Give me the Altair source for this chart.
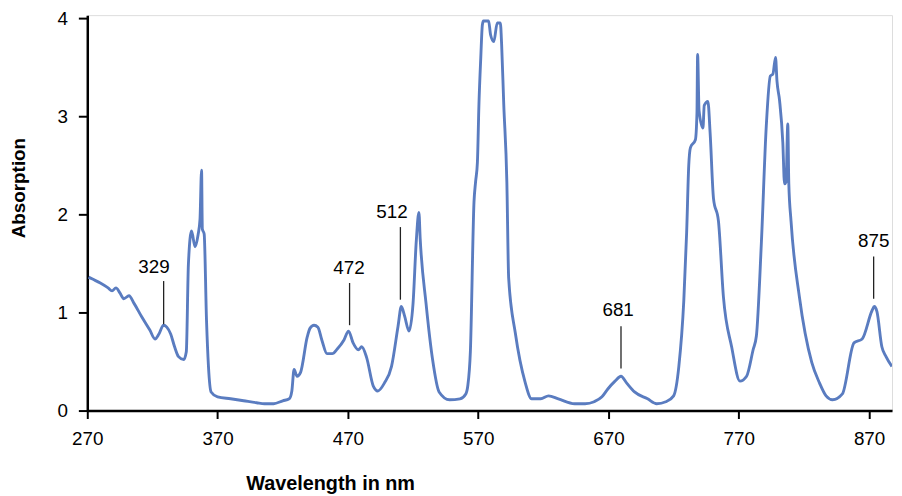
import altair as alt
import pandas as pd

# Spectrum (wavelength in nm, absorption)
wavelength = [271, 274, 280, 286, 289, 292, 295, 298, 302, 306, 312, 318, 322, 325, 328.5, 331, 334, 337, 340, 344,
              346, 347.6, 350, 352.7, 355, 356.5, 357.7, 358.3, 359.7, 361.5, 363, 365, 370, 380, 390, 400, 406, 413,
              420, 425, 427, 428.7, 431, 433.7, 438.8, 441, 444, 447, 450, 454, 458, 462, 467, 470.5, 474, 478, 480.6,
              484.4, 489.5, 493, 498, 503.5, 508.5, 511, 513.6, 516.9, 520, 522.5, 524.5, 525.5, 530, 535, 540, 548,
              556, 560.5, 562, 564, 566.8, 568, 569.4, 570.6, 572, 573.2, 574, 578, 579.5, 582, 584.6, 587, 588, 589.6,
              592, 593.4, 598.5, 606, 611, 618, 624, 631.5, 644, 652, 659, 665, 669.5, 675, 679.6, 684, 690, 700, 707,
              714, 720, 724, 727.8, 730, 731.6, 732.9, 736.7, 737.9, 738.4, 739.5, 742.5, 743.5, 746.3, 748, 750.6,
              754.4, 758.2, 764.5, 770.9, 776, 781, 783.5, 787.3, 791.1, 794.2, 796.2, 798.2, 799.3, 801.3, 803.8,
              805.1, 806.3, 807.6, 808.4, 810.1, 816.5, 826, 832, 837, 842, 849.5, 858.4, 864.7, 872.3, 874, 876,
              879.8, 883, 887.5]
absorption = [1.36, 1.34, 1.30, 1.25, 1.22, 1.25, 1.20, 1.14, 1.17, 1.09, 0.95, 0.82, 0.73, 0.78, 0.87, 0.85, 0.78,
              0.65, 0.55, 0.52, 0.60, 1.49, 1.83, 1.67, 1.79, 1.95, 2.45, 1.85, 1.80, 0.92, 0.45, 0.19, 0.14, 0.12,
              0.10, 0.08, 0.07, 0.07, 0.10, 0.12, 0.20, 0.42, 0.35, 0.39, 0.75, 0.84, 0.87, 0.85, 0.72, 0.58, 0.58,
              0.63, 0.72, 0.81, 0.69, 0.62, 0.65, 0.54, 0.25, 0.20, 0.28, 0.45, 0.86, 1.06, 0.96, 0.81, 1.09, 1.73,
              2.02, 1.75, 1.09, 0.52, 0.19, 0.11, 0.12, 0.17, 0.25, 0.60, 2.13, 2.33, 2.53, 3.13, 3.60, 3.93, 3.97,
              3.97, 3.83, 3.76, 3.95, 3.95, 3.73, 3.13, 2.33, 1.35, 0.79, 0.29, 0.12, 0.12, 0.15, 0.12, 0.07, 0.07,
              0.09, 0.14, 0.22, 0.30, 0.35, 0.28, 0.19, 0.12, 0.07, 0.09, 0.15, 0.45, 1.12, 1.82, 2.50, 2.68, 2.76,
              3.03, 3.63, 3.06, 2.88, 3.11, 3.15, 2.83, 2.16, 1.93, 1.16, 0.65, 0.30, 0.35, 0.62, 0.76, 1.70, 2.90,
              3.41, 3.43, 3.60, 3.36, 3.16, 2.73, 2.31, 2.33, 2.92, 2.31, 1.93, 1.16, 0.49, 0.28, 0.15, 0.11, 0.17,
              0.69, 0.73, 1.02, 1.06, 1.01, 0.65, 0.55, 0.45]

# Peak annotations
peak_labels = ["329", "472", "512", "681", "875"]
label_x = [321.2, 470.9, 503.8, 677.4, 873.5]
label_y = [1.46, 1.45, 2.02, 1.02, 1.73]
leader_x = [328.6, 471.3, 510.3, 679.6, 873.5]
leader_top = [1.32, 1.30, 1.87, 0.86, 1.57]
leader_bottom = [0.88, 0.87, 1.13, 0.43, 1.14]

x_ticks = [270, 370, 470, 570, 670, 770, 870]
y_ticks = [0, 1, 2, 3, 4]

FONT = "Liberation Sans"

spec = pd.DataFrame({"wl": wavelength, "A": absorption})
labels = pd.DataFrame({"label": peak_labels, "x": label_x, "y": label_y})
leaders = pd.DataFrame({"x": leader_x, "y": leader_top, "y2": leader_bottom})

xscale = alt.Scale(domain=[270, 887.6], nice=False, zero=False)
yscale = alt.Scale(domain=[0, 4.03], nice=False, zero=True)

line = alt.Chart(spec).mark_line(color="#5a7cc0", strokeWidth=2.9, clip=True,
                                 interpolate="monotone", strokeJoin="round").encode(
    x=alt.X("wl:Q", scale=xscale,
            axis=alt.Axis(values=x_ticks, format="d", grid=False, tickSize=8, tickWidth=2, tickColor="black",
                          domainColor="black", domainWidth=2.5, labelFont=FONT, labelFontSize=19,
                          labelColor="black", labelPadding=11, labelFlush=False,
                          title="Wavelength in nm", titleFont=FONT, titleFontSize=20,
                          titleFontWeight="bold", titleColor="black", titleX=245, titleY=74,
                          titleAlign="center", titleBaseline="middle")),
    y=alt.Y("A:Q", scale=yscale,
            axis=alt.Axis(values=y_ticks, format="d", grid=False, tickSize=9, tickWidth=2, tickColor="black",
                          domainColor="black", domainWidth=2.5, labelFont=FONT, labelFontSize=19,
                          labelColor="black", labelPadding=11, labelFlush=False,
                          title="Absorption", titleFont=FONT, titleFontSize=19,
                          titleFontWeight="bold", titleColor="black", titleX=-69, titleY=174,
                          titleAlign="center", titleBaseline="middle", titleAngle=270)),
)

rules = alt.Chart(leaders).mark_rule(color="#222222", strokeWidth=1.3).encode(
    x=alt.X("x:Q", scale=xscale), y=alt.Y("y:Q", scale=yscale), y2="y2:Q"
)

texts = alt.Chart(labels).mark_text(font=FONT, fontSize=19, color="black", baseline="middle",
                                    align="center").encode(
    x=alt.X("x:Q", scale=xscale), y=alt.Y("y:Q", scale=yscale), text="label:N"
)

chart = alt.layer(line, rules, texts).properties(
    width=812, height=399,
    autosize=alt.AutoSizeParams(type="none"),
    padding={"left": 80, "top": 5, "right": 2, "bottom": 84},
).configure_view(stroke=None).configure(background="white")

chart.save("out.html", embed_options={"renderer": "svg", "actions": False})
